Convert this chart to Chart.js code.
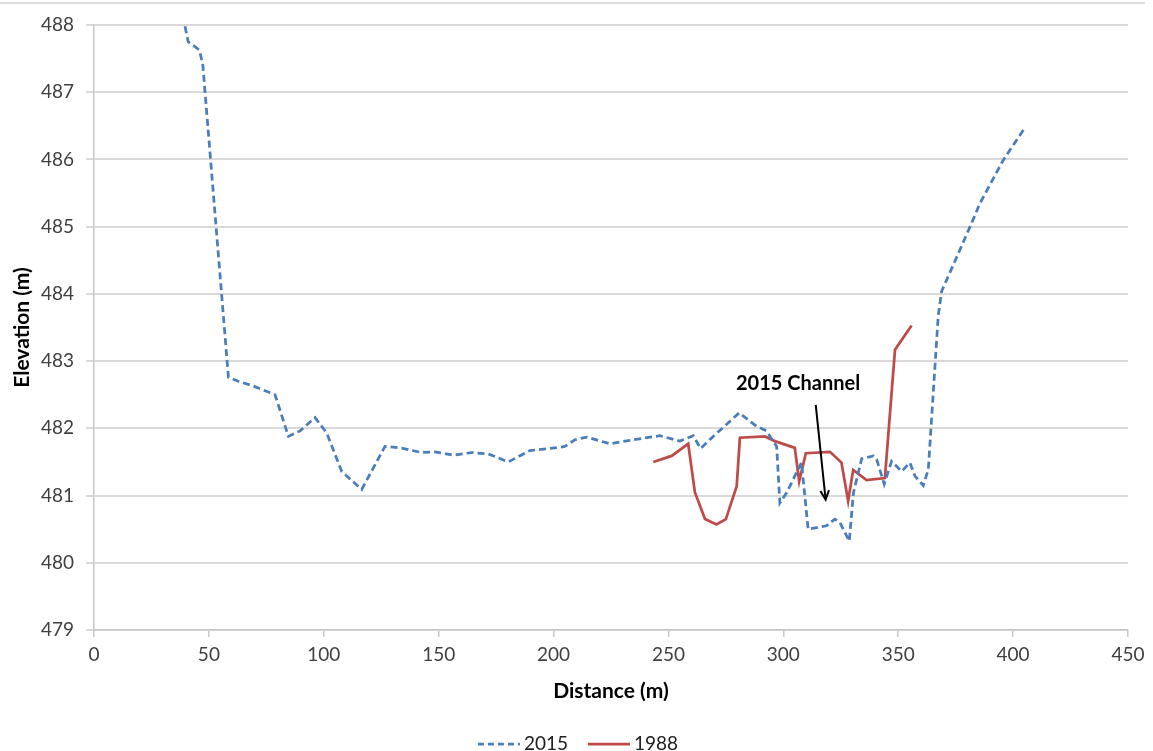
<!DOCTYPE html>
<html>
<head>
<meta charset="utf-8">
<script src="https://cdn.jsdelivr.net/npm/chart.js@4/dist/chart.umd.min.js"></script>
<style>
  html, body { margin: 0; padding: 0; background: #fff; }
  #wrap { width: 1153px; height: 751px; position: relative; }
</style>
</head>
<body>
<div id="wrap"><canvas id="profileChart"></canvas></div>
<script>
// Cross-section data
const dist2015 = [39.6, 41.0, 45.8, 47.3, 58.5, 62.8, 69.3, 78.8, 84.6, 89.6, 96.2, 101.3, 107.8, 116.5,
  126.6, 133.2, 142.6, 148.4, 156.4, 164.3, 171.6, 180.3, 189.7, 198.4, 204.9, 209.3, 214.4, 224.5,
  234.7, 246.3, 255.0, 260.8, 264.0, 269.5, 280.8, 288.4, 292.7, 297.1, 298.5, 301.4, 307.9, 310.8,
  318.8, 322.4, 324.6, 328.7, 330.5, 334.1, 339.2, 340.6, 343.9, 347.1, 351.5, 355.1, 357.3, 360.9,
  363.1, 367.4, 368.9, 375.5, 381.9, 385.6, 395.7, 405.1];
const elev2015 = [487.98, 487.75, 487.63, 487.43, 482.76, 482.70, 482.63, 482.50, 481.88, 481.96, 482.16,
  481.93, 481.36, 481.09, 481.73, 481.71, 481.64, 481.65, 481.60, 481.64, 481.62, 481.50, 481.67,
  481.70, 481.73, 481.83, 481.87, 481.77, 481.83, 481.89, 481.81, 481.89, 481.70, 481.88, 482.23,
  482.03, 481.96, 481.73, 480.89, 481.04, 481.49, 480.50, 480.55, 480.65, 480.60, 480.32, 481.04,
  481.55, 481.59, 481.54, 481.17, 481.51, 481.36, 481.49, 481.29, 481.15, 481.39, 483.67, 484.04,
  484.55, 485.05, 485.35, 485.99, 486.47];

const dist1988 = [243.4, 251.4, 258.6, 261.5, 265.9, 270.9, 275.0, 279.7, 281.1, 292.0, 296.3, 305.0,
  306.9, 309.8, 320.3, 325.3, 328.2, 330.4, 336.2, 344.2, 348.6, 355.8];
const elev1988 = [481.50, 481.59, 481.77, 481.05, 480.65, 480.57, 480.65, 481.14, 481.86, 481.88, 481.81,
  481.71, 481.21, 481.63, 481.65, 481.49, 480.92, 481.38, 481.23, 481.26, 483.17, 483.53];

const xTicks = [0, 450, 50];      // min, max, step
const yTicks = [479, 488, 1];

// annotation: label position and arrow (start, end) in data units
const noteText = '2015 Channel';
const notePos = [306.4, 482.67];
const arrowFrom = [314.1, 482.35];
const arrowTo = [318.4, 480.94];

const toPoints = (xs, ys) => xs.map((x, i) => ({ x: x, y: ys[i] }));

const FONT = 'Lato, "Open Sans", sans-serif';

const annotate = {
  id: 'annotate',
  beforeDraw(chart) {
    const c = chart.ctx;
    c.save();
    c.fillStyle = '#fff';
    c.fillRect(0, 0, chart.width, chart.height);
    c.strokeStyle = '#d0d0d0';
    c.lineWidth = 1.5;
    c.beginPath();
    c.moveTo(0, 3);
    c.lineTo(chart.width - 8, 3);
    c.stroke();
    c.restore();
  },
  afterDatasetsDraw(chart) {
    const c = chart.ctx;
    const sx = chart.scales.x, sy = chart.scales.y;
    c.save();
    c.fillStyle = '#000';
    c.font = 'bold 20px ' + FONT;
    c.textAlign = 'center';
    c.textBaseline = 'middle';
    c.fillText(noteText, sx.getPixelForValue(notePos[0]), sy.getPixelForValue(notePos[1]));

    const x1 = sx.getPixelForValue(arrowFrom[0]), y1 = sy.getPixelForValue(arrowFrom[1]);
    const x2 = sx.getPixelForValue(arrowTo[0]), y2 = sy.getPixelForValue(arrowTo[1]);
    const ang = Math.atan2(y2 - y1, x2 - x1);
    c.strokeStyle = '#000';
    c.lineWidth = 2;
    c.beginPath();
    c.moveTo(x1, y1);
    c.lineTo(x2 - 2 * Math.cos(ang), y2 - 2 * Math.sin(ang));
    c.stroke();
    // open arrow head
    c.beginPath();
    c.moveTo(x2 - 10 * Math.cos(ang - 0.45), y2 - 10 * Math.sin(ang - 0.45));
    c.lineTo(x2, y2);
    c.lineTo(x2 - 10 * Math.cos(ang + 0.45), y2 - 10 * Math.sin(ang + 0.45));
    c.stroke();
    c.restore();
  },
  afterDraw(chart) {
    // legend under the x title, Excel style: sample line then label
    const c = chart.ctx;
    const sets = chart.data.datasets;
    const lineLen = 42, gap = 4, itemGap = 20, y = 744;
    c.save();
    c.font = '19px ' + FONT;
    c.textBaseline = 'middle';
    const widths = sets.map(d => lineLen + gap + c.measureText(d.label).width);
    const total = widths.reduce((a, b) => a + b, 0) + itemGap * (sets.length - 1);
    let x = 578 - total / 2;
    sets.forEach((d, i) => {
      c.strokeStyle = d.borderColor;
      c.lineWidth = d.borderWidth;
      c.setLineDash(d.borderDash ? [6, 4] : []);
      c.beginPath();
      c.moveTo(x, y);
      c.lineTo(x + lineLen, y);
      c.stroke();
      c.setLineDash([]);
      c.fillStyle = '#202020';
      c.fillText(d.label, x + lineLen + gap, y);
      x += widths[i] + itemGap;
    });
    c.restore();
  }
};

new Chart(document.getElementById('profileChart').getContext('2d'), {
  type: 'scatter',
  data: {
    datasets: [{
      label: '2015',
      data: toPoints(dist2015, elev2015),
      showLine: true,
      borderColor: '#4a7ebb',
      backgroundColor: '#4a7ebb',
      borderWidth: 2.75,
      borderDash: [7, 4],
      pointRadius: 0,
      tension: 0
    }, {
      label: '1988',
      data: toPoints(dist1988, elev1988),
      showLine: true,
      borderColor: '#be4b48',
      backgroundColor: '#be4b48',
      borderWidth: 2.75,
      pointRadius: 0,
      tension: 0
    }]
  },
  options: {
    responsive: true,
    maintainAspectRatio: false,
    animation: false,
    layout: { padding: { top: 25, right: 25, left: 0, bottom: 0 } },
    scales: {
      x: {
        type: 'linear',
        min: xTicks[0], max: xTicks[1],
        afterFit(scale) { scale.height = 121; },
        ticks: { stepSize: xTicks[2], color: '#404040', padding: 6, font: { family: FONT, size: 19 } },
        grid: { drawOnChartArea: false, drawTicks: true, tickLength: 7, color: '#c8c8c8', lineWidth: 1.5 },
        border: { color: '#c8c8c8', width: 1.5 },
        title: { display: true, text: 'Distance (m)', color: '#000', padding: { top: 6, bottom: 47 },
          font: { family: FONT, size: 21, weight: 'bold' } }
      },
      y: {
        min: yTicks[0], max: yTicks[1],
        afterFit(scale) { scale.width = 94; },
        ticks: { stepSize: yTicks[2], color: '#404040', padding: 12, font: { family: FONT, size: 19 } },
        grid: { color: '#d9d9d9', lineWidth: 2, tickLength: 8 },
        border: { color: '#c8c8c8', width: 1.5 },
        title: { display: true, text: 'Elevation (m)', color: '#000', padding: { top: 10, bottom: 0 },
          font: { family: FONT, size: 21, weight: 'bold' } }
      }
    },
    plugins: {
      tooltip: { enabled: false },
      legend: { display: false }
    }
  },
  plugins: [annotate]
});
</script>
</body>
</html>
